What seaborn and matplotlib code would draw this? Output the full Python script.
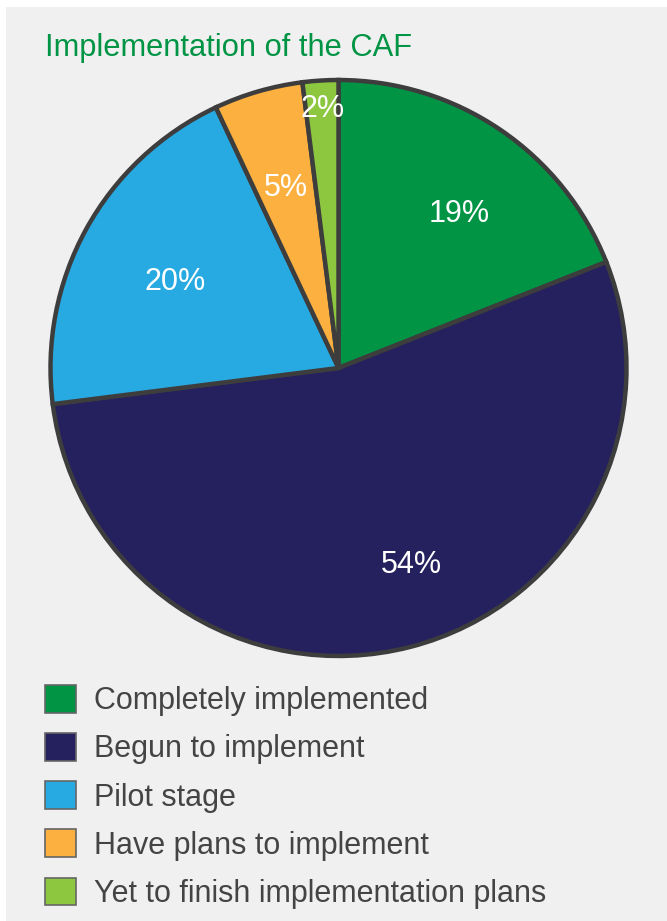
import matplotlib
matplotlib.use("Agg")
import matplotlib.pyplot as plt
import matplotlib.patches as mpatches
import seaborn as sns
import numpy as np

categories = ["Completely implemented", "Begun to implement", "Pilot stage",
              "Have plans to implement", "Yet to finish implementation plans"]
values = [19, 54, 20, 5, 2]
pct_labels = ["19%", "54%", "20%", "5%", "2%"]
hex_colors = ["#009444", "#25215e", "#27aae1", "#fbb040", "#8dc63f"]
title = "Implementation of the CAF"

sns.set_style("white")
plt.rcParams['font.family'] = ['Liberation Sans', 'DejaVu Sans']
palette = sns.color_palette(hex_colors)

W, H = 667, 921
fig = plt.figure(figsize=(W / 100, H / 100), dpi=100)
fig.patch.set_facecolor("white")
fig.add_artist(mpatches.Rectangle((6 / W, 0), 1 - 6 / W, 1 - 7 / H,
                                  transform=fig.transFigure,
                                  facecolor="#f0f0f0", edgecolor="none", zorder=-10))

cx, cy, r = 338.5, 368, 288
ax = fig.add_axes([(cx - r) / W, (H - cy - r) / H, 2 * r / W, 2 * r / H])
ax.set_facecolor("none")
wedges, _ = ax.pie(values, colors=palette, startangle=90, counterclock=False,
                   radius=1.0,
                   wedgeprops=dict(edgecolor="#3d3d3d", linewidth=3.2))
ax.set_xlim(-1, 1)
ax.set_ylim(-1, 1)
ax.set_aspect("equal")
ax.axis("off")
for w in wedges:
    w.set_clip_on(False)

rfrac = [0.68, 0.73, 0.64, 0.65, 0.90]
aoff = [-4, 6, 1, 0, 0]
for w, lab, rf, ao in zip(wedges, pct_labels, rfrac, aoff):
    mid = np.deg2rad((w.theta1 + w.theta2) / 2 + ao)
    ax.text(rf * np.cos(mid), rf * np.sin(mid), lab, ha="center", va="center",
            color="white", fontsize=22)

fig.text(45 / W, 1 - 56 / H, title, color="#009444", fontsize=22.2,
         ha="left", va="baseline")

handles = [mpatches.Patch(facecolor=c, edgecolor="#666666", linewidth=1.2)
           for c in palette]
fig.legend(handles, categories, loc="upper left",
           bbox_to_anchor=(45 / W, 1 - 685 / H), bbox_transform=fig.transFigure,
           frameon=False, fontsize=22, handlelength=1.02, handleheight=1.02,
           handletextpad=0.6, labelspacing=0.55, borderpad=0, borderaxespad=0,
           labelcolor="#444444")

fig.savefig("out.png", dpi=100)
